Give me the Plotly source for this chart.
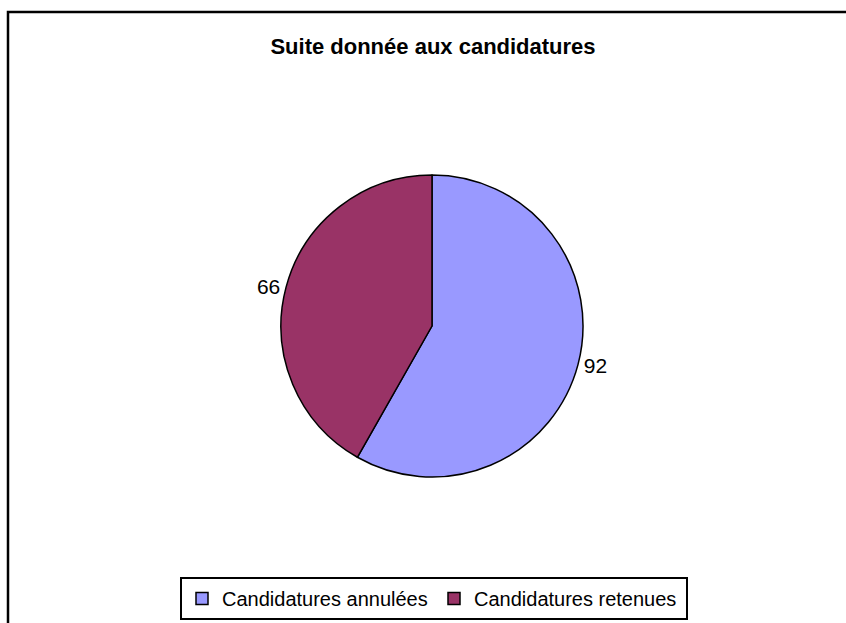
import plotly.graph_objects as go

title_text = "Suite donnée aux candidatures"
categories = ["Candidatures annulées", "Candidatures retenues"]
values = [92, 66]
colors = ["#9999FF", "#993366"]

W, H = 846, 623

fig = go.Figure(
    go.Pie(
        labels=categories,
        values=values,
        sort=False,
        direction="clockwise",
        rotation=0,
        marker=dict(colors=colors, line=dict(color="black", width=1.5)),
        textinfo="value",
        textposition="outside",
        outsidetextfont=dict(family="Liberation Sans, Arial, sans-serif", size=21, color="black"),
        domain=dict(x=[281 / W, 583 / W], y=[146 / H, 448 / H]),
        hoverinfo="label+value",
    )
)

fig.update_layout(
    width=W,
    height=H,
    margin=dict(l=0, r=0, t=0, b=0),
    paper_bgcolor="white",
    plot_bgcolor="white",
    font=dict(family="Liberation Sans, Arial, sans-serif", color="black"),
    title=dict(
        text="<b>" + title_text + "</b>",
        x=433 / W,
        xanchor="center",
        y=1 - 46 / H,
        yanchor="middle",
        font=dict(size=22, color="black"),
    ),
    showlegend=True,
    legend=dict(
        orientation="h",
        x=434 / W,
        xanchor="center",
        y=3 / H,
        yanchor="bottom",
        font=dict(size=20, color="black"),
        bordercolor="black",
        borderwidth=2,
        bgcolor="white",
        entrywidth=207,
        entrywidthmode="pixels",
        itemclick=False,
        itemdoubleclick=False,
    ),
    shapes=[
        dict(
            type="rect",
            xref="paper",
            yref="paper",
            x0=8 / W,
            x1=1.2,
            y0=-0.2,
            y1=1 - 12 / H,
            line=dict(color="black", width=2.5),
            fillcolor="rgba(0,0,0,0)",
            layer="below",
        )
    ],
)

fig.write_html("out.html")
